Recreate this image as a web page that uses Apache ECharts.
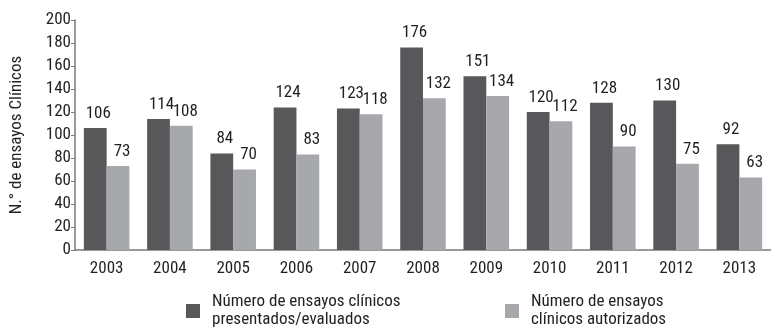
<!DOCTYPE html>
<html>
<head>
<meta charset="utf-8">
<script src="https://cdn.jsdelivr.net/npm/echarts@6/dist/echarts.min.js"></script>
<style>
  html, body { margin: 0; padding: 0; background: #fff; }
  #chart { width: 771px; height: 330px; }
</style>
</head>
<body>
<div id="chart"></div>
<script>
// Clinical trials per year: submitted/evaluated vs. authorised
const years = ['2003', '2004', '2005', '2006', '2007', '2008', '2009', '2010', '2011', '2012', '2013'];
const presentados = [106, 114, 84, 124, 123, 176, 151, 120, 128, 130, 92];
const autorizados = [73, 108, 70, 83, 118, 132, 134, 112, 90, 75, 63];
const seriesNames = ['Número de ensayos clínicos\npresentados/evaluados', 'Número de ensayos\nclínicos autorizados'];
const yTitle = 'N.° de ensayos Clínicos';

const FONT = '"Roboto Condensed", "Liberation Sans", Arial, sans-serif';
const DARK = '#58585a';
const LIGHT = '#a7a8ab';
const TEXT = '#231f20';
const AXIS = '#7a7a7c';
const FS = 17;

const chart = echarts.init(document.getElementById('chart'));
const labelStyle = (dx) => ({
  show: true, position: 'top', distance: 6, offset: [dx, 0],
  fontFamily: FONT, fontSize: FS, color: TEXT
});
const legendText = { fontFamily: FONT, fontSize: FS, color: TEXT, lineHeight: 18, padding: [0, 0, 0, 7] };

chart.setOption({
  animation: false,
  textStyle: { fontFamily: FONT },
  grid: { left: 71, top: 20, width: 707, height: 230, containLabel: false },
  legend: [
    {
      left: 181, top: 288, itemWidth: 14, itemHeight: 14, icon: 'rect',
      textStyle: legendText, data: [seriesNames[0]]
    },
    {
      left: 500, top: 288, itemWidth: 14, itemHeight: 14, icon: 'rect',
      textStyle: legendText, data: [seriesNames[1]]
    }
  ],
  xAxis: {
    type: 'category', data: years,
    axisLine: { lineStyle: { color: AXIS, width: 1.5 } },
    axisTick: { show: false },
    axisLabel: { fontFamily: FONT, fontSize: FS, color: TEXT, margin: 10 }
  },
  yAxis: {
    type: 'value', min: 0, max: 200, interval: 20,
    name: yTitle, nameLocation: 'middle', nameGap: 50,
    nameTextStyle: { fontFamily: FONT, fontSize: FS, color: TEXT },
    splitLine: { show: false },
    axisLine: { show: true, lineStyle: { color: AXIS, width: 1.5 } },
    axisTick: { show: true, length: 4, lineStyle: { color: AXIS } },
    axisLabel: { fontFamily: FONT, fontSize: FS, color: TEXT, margin: 4 }
  },
  series: [
    {
      name: seriesNames[0], type: 'bar', data: presentados,
      itemStyle: { color: DARK }, barGap: '0%', barCategoryGap: '28%',
      label: labelStyle(3)
    },
    {
      name: seriesNames[1], type: 'bar', data: autorizados,
      itemStyle: { color: LIGHT },
      label: labelStyle(4)
    }
  ]
});
</script>
</body>
</html>
